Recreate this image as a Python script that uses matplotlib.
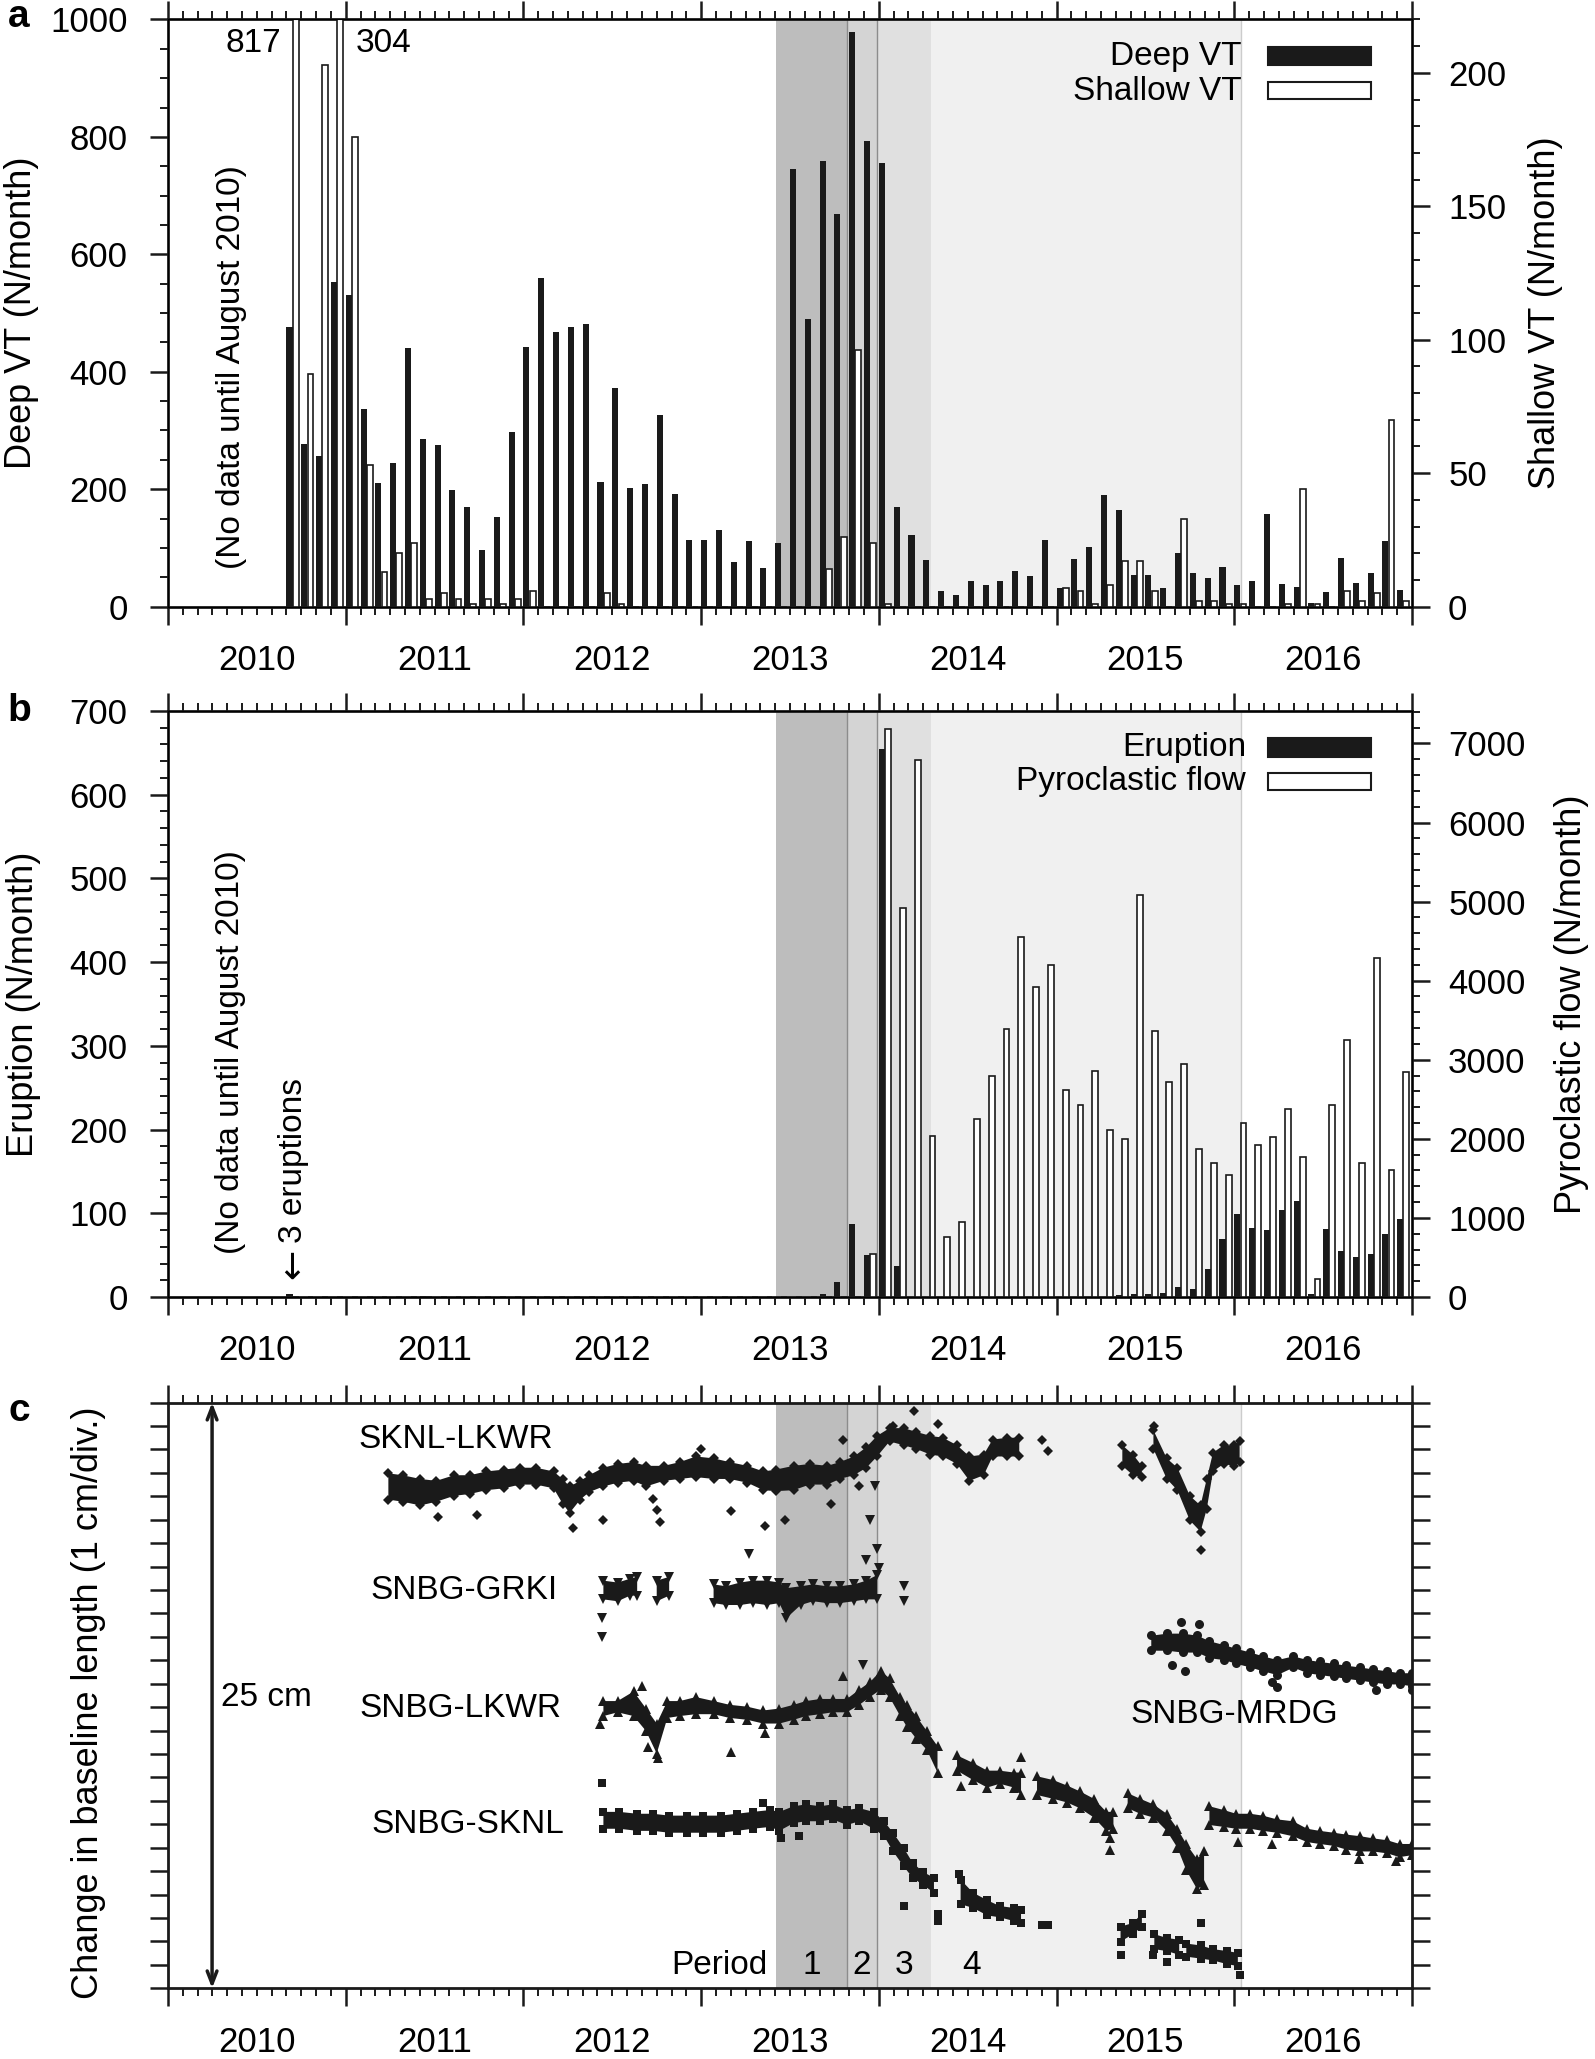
import numpy as np
import matplotlib
matplotlib.use("Agg")
import matplotlib.pyplot as plt
from matplotlib.ticker import MultipleLocator, NullFormatter
from matplotlib.patches import Rectangle

plt.rcParams['font.family'] = ['Liberation Sans', 'DejaVu Sans']
ink = '#1a1a1a'

# monthly counts, Sep 2010 .. Dec 2016 (each bar starts on the first day of its month)
month_t = 2010 + 8 / 12 + np.arange(76) / 12

deep_vt = [477, 277, 256, 553, 530, 337, 210, 245, 441, 286, 275, 199, 170, 97, 153, 297,
           443, 560, 468, 477, 481, 213, 372, 202, 209, 326, 192, 114, 113, 131, 76, 112,
           65, 109, 745, 490, 759, 669, 979, 793, 756, 170, 122, 79, 26, 19, 44, 37,
           43, 60, 52, 114, 32, 81, 102, 190, 164, 53, 53, 31, 91, 57, 49, 67,
           36, 43, 157, 38, 34, 6, 25, 82, 41, 57, 112, 28]
shallow_vt = [817, 87, 203, 304, 176, 53, 13, 20, 24, 3, 5, 3, 1, 3, 1, 3,
              6, 0, 0, 0, 0, 5, 1, 0, 0, 0, 0, 0, 0, 0, 0, 0,
              0, 0, 0, 0, 14, 26, 96, 24, 1, 0, 0, 0, 0, 0, 0, 0,
              0, 0, 0, 0, 7, 6, 1, 8, 17, 17, 6, 0, 33, 2, 2, 1,
              1, 0, 0, 1, 44, 1, 0, 6, 2, 5, 70, 2]
eruption = [3, 0, 0, 0, 0, 0, 0, 0, 0, 1, 0, 0, 0, 0, 0, 0,
            0, 0, 0, 0, 0, 0, 0, 0, 0, 0, 0, 0, 0, 0, 0, 0,
            0, 0, 0, 0, 3, 18, 87, 50, 655, 37, 0, 0, 0, 0, 0, 0,
            0, 0, 0, 0, 0, 0, 0, 0, 2, 3, 4, 5, 12, 10, 33, 69,
            99, 83, 80, 104, 115, 3, 81, 55, 48, 51, 75, 93]
pyroclastic = [0, 0, 0, 0, 0, 0, 0, 0, 0, 0, 0, 0, 0, 0, 0, 0,
               0, 0, 0, 0, 0, 0, 0, 0, 0, 0, 0, 0, 0, 0, 0, 0,
               0, 0, 0, 0, 0, 0, 0, 545, 7183, 4914, 6790, 2040, 765, 946, 2250, 2790,
               3390, 4555, 3918, 4200, 2620, 2430, 2858, 2110, 1999, 5078, 3368, 2722, 2948, 1867, 1699, 1542,
               2195, 1924, 2024, 2373, 1767, 231, 2422, 3246, 1695, 4285, 1601, 2841]

years = [2010, 2011, 2012, 2013, 2014, 2015, 2016]
period_edges = [2013.419, 2013.82, 2013.99, 2014.295, 2016.04]
period_shades = ['#bdbdbd', '#d4d4d4', '#e0e0e0', '#f0f0f0']
period_names = ['1', '2', '3', '4']
period_label_x = [2013.62, 2013.905, 2014.14, 2014.52]

# baseline changes (cm), upper / lower edge of the point cloud, None = gap
sknl_lkwr_t = [2011.24, 2011.32, 2011.42, 2011.51, 2011.61, 2011.70, 2011.79, 2011.89, 2011.98, 2012.07,
               2012.17, 2012.22, 2012.26, 2012.32, 2012.37, 2012.45, 2012.53, 2012.62, 2012.69, 2012.79,
               2012.88, 2012.97, 2013.07, 2013.16, 2013.26, 2013.35, 2013.42, 2013.52, 2013.61, 2013.71,
               2013.78, 2013.86, 2013.93, 2013.99, 2014.06, 2014.14, 2014.21, 2014.29, 2014.36, 2014.44,
               2014.51, 2014.59, 2014.64, 2014.72, 2014.79, None, 2015.37, 2015.43, 2015.48, None,
               2015.545, 2015.62, 2015.68, 2015.75, 2015.81, 2015.845, 2015.88, 2015.94, 2016.00, 2016.03]
sknl_lkwr_hi = [21.98, 21.90, 21.74, 21.66, 21.90, 21.90, 22.06, 22.14, 22.22, 22.22,
                22.06, 21.74, 21.42, 21.66, 21.90, 22.22, 22.38, 22.46, 22.30, 22.30,
                22.46, 22.70, 22.62, 22.46, 22.30, 22.06, 22.14, 22.30, 22.38, 22.30,
                22.46, 22.70, 23.10, 23.58, 23.91, 23.91, 23.75, 23.58, 23.50, 23.18,
                22.70, 22.78, 23.42, 23.50, 23.50, None, 23.18, 22.78, 22.30, None,
                23.82, 22.62, 22.22, 21.02, 20.61, 21.74, 22.86, 23.18, 23.18, 23.34]
sknl_lkwr_lo = [20.86, 20.77, 20.61, 20.77, 21.02, 21.10, 21.26, 21.34, 21.50, 21.50,
                21.34, 20.69, 20.29, 20.86, 21.18, 21.42, 21.58, 21.66, 21.42, 21.66,
                21.74, 21.82, 21.74, 21.74, 21.58, 21.26, 21.22, 21.26, 21.50, 21.50,
                21.74, 21.90, 22.22, 22.70, 23.34, 23.18, 23.02, 22.78, 22.70, 22.38,
                21.66, 21.90, 22.70, 22.70, 22.70, None, 22.30, 21.90, 21.82, None,
                23.02, 21.74, 21.26, 19.97, 19.49, 20.45, 22.06, 22.38, 22.30, 22.46]
sknl_lkwr_out_t = [2011.52, 2011.74, 2012.28, 2012.45, 2012.73, 2012.75, 2012.77, 2013.00, 2013.17, 2013.36,
                   2013.47, 2013.73, 2013.80, 2013.89, 2014.08, 2014.20, 2014.33, 2014.92, 2014.95, 2015.81, 2015.55]
sknl_lkwr_out_y = [20.13, 20.21, 19.65, 19.97, 20.90, 20.40, 19.90, 23.02, 20.37, 19.73,
                   19.97, 20.69, 23.42, 21.42, 23.99, 24.63, 24.07, 23.42, 22.94, 18.69, 24.00]

snbg_grki_t = [2012.45, 2012.53, 2012.60, 2012.64, None, 2012.75, 2012.82, None, 2013.07, 2013.14, 2013.22,
               2013.29, 2013.37, 2013.44, 2013.48, 2013.56, 2013.63, 2013.71, 2013.78, 2013.86, 2013.93, 2013.99]
snbg_grki_hi = [17.40, 17.32, 17.48, 17.56, None, 17.40, 17.56, None, 17.24, 17.16, 17.32,
                17.40, 17.40, 17.32, 17.08, 17.16, 17.24, 17.16, 17.16, 17.24, 17.40, 17.64]
snbg_grki_lo = [16.60, 16.52, 16.76, 16.76, None, 16.52, 16.76, None, 16.44, 16.36, 16.36,
                16.44, 16.36, 16.44, 15.80, 16.36, 16.52, 16.44, 16.44, 16.52, 16.60, 16.60]
snbg_grki_out_t = [2012.44, 2012.44, 2013.27, 2013.93, 2013.95, 2013.98, 2013.99, 2014.00, 2013.91, 2014.14, 2014.14]
snbg_grki_out_y = [15.80, 15.00, 18.53, 18.29, 20.00, 21.45, 18.77, 17.96, 13.79, 17.16, 16.52]

snbg_lkwr_t = [2012.45, 2012.53, 2012.62, 2012.69, 2012.75, 2012.81, 2012.88, 2012.97, 2013.07, 2013.16,
               2013.26, 2013.35, 2013.44, 2013.52, 2013.59, 2013.67, 2013.74, 2013.82, 2013.89, 2013.95,
               2014.01, 2014.06, 2014.12, 2014.16, 2014.21, 2014.27, 2014.33, None, 2014.44, 2014.53,
               2014.61, 2014.68, 2014.76, 2014.80, None, 2014.89, 2014.98, 2015.06, 2015.13, 2015.21,
               2015.28, 2015.32, None, 2015.40, 2015.47, 2015.545, 2015.62, 2015.68, 2015.73, 2015.79,
               2015.83, None, 2015.86, 2015.94, 2016.01, 2016.09, 2016.16, 2016.24, 2016.33, 2016.41,
               2016.48, 2016.56, 2016.63, 2016.71, 2016.78, 2016.86, 2016.93, 2017.00]
snbg_lkwr_hi = [12.26, 12.26, 12.67, 11.94, 11.30, 12.26, 12.26, 12.43, 12.26, 12.10,
                12.02, 11.86, 11.94, 12.10, 12.26, 12.35, 12.35, 12.35, 12.75, 13.07,
                13.55, 13.23, 12.43, 12.10, 11.62, 10.98, 10.34, None, 9.94, 9.62,
                9.29, 9.29, 9.21, 9.21, None, 9.05, 8.89, 8.65, 8.41, 8.09,
                7.53, 7.53, None, 8.33, 8.09, 7.85, 7.45, 6.81, 6.16, 5.52,
                5.84, None, 7.77, 7.61, 7.45, 7.45, 7.37, 7.21, 7.13, 6.81,
                6.72, 6.64, 6.56, 6.49, 6.40, 6.32, 6.16, 6.16]
snbg_lkwr_lo = [11.62, 11.78, 11.62, 10.98, 10.02, 11.54, 11.62, 11.70, 11.70, 11.54,
                11.46, 11.30, 11.30, 11.46, 11.62, 11.70, 11.78, 11.78, 12.10, 12.43,
                12.75, 12.43, 11.62, 11.14, 10.66, 10.18, 9.21, None, 9.29, 8.89,
                8.57, 8.73, 8.57, 8.25, None, 8.25, 8.09, 7.93, 7.69, 7.29,
                6.72, 6.81, None, 7.69, 7.45, 7.29, 6.72, 6.00, 5.04, 4.24,
                4.40, None, 6.97, 6.89, 6.81, 6.81, 6.72, 6.64, 6.49, 6.24,
                6.16, 6.08, 5.92, 5.84, 5.84, 5.76, 5.60, 5.68]
snbg_lkwr_out_t = [2012.43, 2012.665, 2013.17, 2013.36, 2013.80, 2014.46, 2014.80, 2015.30, 2015.30,
                   2016.02, 2016.21, 2016.70, 2016.91, 2012.70, 2012.76]
snbg_lkwr_out_y = [11.30, 12.91, 10.10, 10.90, 13.31, 8.65, 9.86, 6.40, 5.92,
                   6.24, 6.16, 5.52, 5.44, 10.30, 9.85]

snbg_mrdg_t = [2015.53, 2015.62, 2015.71, 2015.79, 2015.86, 2015.94, 2016.01, 2016.09, 2016.16, 2016.24,
               2016.33, 2016.41, 2016.48, 2016.56, 2016.63, 2016.71, 2016.78, 2016.86, 2016.93, 2017.00]
snbg_mrdg_hi = [15.07, 15.16, 15.16, 15.07, 14.83, 14.67, 14.51, 14.35, 14.19, 14.03,
                14.19, 14.03, 13.95, 13.87, 13.79, 13.71, 13.63, 13.55, 13.47, 13.47]
snbg_mrdg_lo = [14.43, 14.43, 14.35, 14.35, 14.11, 14.03, 13.87, 13.71, 13.55, 13.39,
                13.71, 13.47, 13.39, 13.31, 13.23, 13.15, 13.07, 12.99, 12.99, 12.91]
snbg_mrdg_out_t = [2015.65, 2015.72, 2016.21, 2016.80, 2016.999, 2015.70, 2015.80, 2016.24]
snbg_mrdg_out_y = [13.79, 13.55, 13.07, 12.75, 12.75, 15.64, 15.56, 12.85]

snbg_sknl_t = [2012.45, 2012.54, 2012.64, 2012.73, 2012.82, 2012.92, 2013.01, 2013.11, 2013.20, 2013.29,
               2013.39, 2013.44, 2013.52, 2013.59, 2013.67, 2013.74, 2013.82, 2013.89, 2013.97, 2014.03,
               2014.08, 2014.14, 2014.19, 2014.25, 2014.31, None, 2014.46, 2014.53, 2014.61, 2014.68,
               2014.76, 2014.80, None, 2015.36, 2015.43, 2015.48, None, 2015.55, 2015.62, 2015.69,
               None, 2015.73, 2015.81, 2015.88, 2015.96, 2016.02]
snbg_sknl_hi = [7.53, 7.53, 7.45, 7.45, 7.37, 7.37, 7.37, 7.37, 7.45, 7.53,
                7.61, 7.53, 7.77, 7.85, 7.77, 7.85, 7.61, 7.69, 7.53, 7.13,
                6.64, 5.99, 5.36, 4.96, 4.72, None, 4.64, 4.08, 3.76, 3.51,
                3.43, 3.35, None, 2.63, 2.79, 3.19, None, 2.31, 2.15, 2.07,
                None, 1.91, 1.83, 1.67, 1.59, 1.51]
snbg_sknl_lo = [6.81, 6.81, 6.72, 6.72, 6.64, 6.64, 6.64, 6.64, 6.72, 6.81,
                6.89, 6.72, 7.05, 7.13, 7.13, 7.21, 6.97, 7.13, 6.81, 6.49,
                5.84, 5.20, 4.72, 4.40, 4.08, None, 3.59, 3.43, 3.11, 3.03,
                2.87, 2.79, None, 1.99, 2.31, 2.63, None, 1.67, 1.59, 1.43,
                None, 1.35, 1.27, 1.19, 1.03, 0.95]
snbg_sknl_out_t = [2012.44, 2013.35, 2014.14, 2014.33, 2014.33, 2014.45, 2014.92, 2014.95, 2015.36, 2015.54,
                   2015.62, 2015.81, 2016.03, 2013.55, 2013.45]
snbg_sknl_out_y = [8.76, 7.93, 3.51, 3.19, 2.87, 4.88, 2.70, 2.70, 1.43, 1.43,
                   1.11, 2.79, 0.55, 6.50, 6.40]


def frame(ax):
    ax.set_xlim(2010, 2017)
    ax.xaxis.set_major_locator(MultipleLocator(1))
    ax.xaxis.set_minor_locator(MultipleLocator(1 / 12))
    ax.xaxis.set_major_formatter(NullFormatter())
    ax.tick_params(axis='both', which='both', direction='out', top=True, color=ink)
    ax.tick_params(axis='both', which='major', length=13, width=1.8, labelsize=25, pad=16)
    ax.tick_params(axis='both', which='minor', length=5.5, width=1.4)
    for s in ax.spines.values():
        s.set_linewidth(2)
        s.set_color(ink)
    tr = ax.get_xaxis_transform()
    for yr in years:
        ax.text(yr + 0.5, -0.092, str(yr), transform=tr, ha='center', va='center', fontsize=25)


def shade(ax):
    for x0, x1, c in zip(period_edges[:-1], period_edges[1:], period_shades):
        ax.axvspan(x0, x1, color=c, lw=0, zorder=0)
    for x in period_edges[1:3]:
        ax.axvline(x, color='#8c8c8c', lw=1, zorder=0.5)
    ax.axvline(period_edges[-1], color='#cccccc', lw=1, zorder=0.5)


def right_axis(ax2, top, major, minor, label, label_x):
    ax2.set_ylim(0, top)
    ax2.yaxis.set_major_locator(MultipleLocator(major))
    ax2.yaxis.set_minor_locator(MultipleLocator(minor))
    ax2.tick_params(axis='y', which='both', direction='out', color=ink)
    ax2.tick_params(axis='y', which='major', length=13, width=1.8, labelsize=25, pad=13)
    ax2.tick_params(axis='y', which='minor', length=5.5, width=1.4)
    ax2.set_ylabel(label, fontsize=26, rotation=90, ha='center', va='center', rotation_mode='anchor')
    ax2.yaxis.set_label_coords(label_x, 0.5)


def key(ax, labels, text_x, text_y, boxes):
    for lab, ty, (by, bh), fc in zip(labels, text_y, boxes, [ink, 'white']):
        ax.add_patch(Rectangle((0.8842, by), 0.0828, bh, transform=ax.transAxes,
                               facecolor=fc, edgecolor=ink, lw=1.5, zorder=10, clip_on=False))
        ax.text(text_x, ty, lab, transform=ax.transAxes, ha='right', va='center', fontsize=24, zorder=10)


def baseline(ax, t, hi, lo, out_t, out_y, marker, ms):
    t = np.array(t, dtype=float)
    hi = np.array(hi, dtype=float)
    lo = np.array(lo, dtype=float)
    ax.fill_between(t, lo, hi, color=ink, lw=0, zorder=3)
    for y in (hi, lo):
        ax.plot(t, y, ls='none', marker=marker, ms=ms, color=ink, mew=0, zorder=3)
    ax.plot(out_t, out_y, ls='none', marker=marker, ms=ms, color=ink, mew=0, zorder=3)


fig = plt.figure(figsize=(15.95, 20.59), dpi=100)
W = 0.77994
ax_a = fig.add_axes([0.10533, 0.70539, W, 0.28514])
ax_b = fig.add_axes([0.10533, 0.37008, W, 0.28461])
ax_c = fig.add_axes([0.10533, 0.03434, W, 0.28446])

# ---- a: volcano-tectonic earthquakes
shade(ax_a)
ax_a.bar(month_t, deep_vt, width=0.034, align='edge', color=ink, lw=0, zorder=2)
frame(ax_a)
ax_a.set_ylim(0, 1000)
ax_a.yaxis.set_major_locator(MultipleLocator(200))
ax_a.yaxis.set_minor_locator(MultipleLocator(50))
ax_a.tick_params(axis='y', which='both', right=False)
ax_a.set_ylabel('Deep VT (N/month)', fontsize=26, rotation=90, ha='center', va='center', rotation_mode='anchor')
ax_a.yaxis.set_label_coords(-0.1174, 0.5)
ax_a2 = ax_a.twinx()
ax_a2.bar(month_t + 0.035, shallow_vt, width=0.033, align='edge', facecolor='white', edgecolor=ink, lw=1.2)
right_axis(ax_a2, 220, 50, 10, 'Shallow VT (N/month)', 1.1077)
ax_a.text(2010.636, 959, '817', ha='right', va='center', fontsize=24)
ax_a.text(2011.058, 959, '304', ha='left', va='center', fontsize=24)
ax_a.text(2010.355, 408, '(No data until August 2010)', rotation=90, ha='center', va='center', fontsize=24)
key(ax_a2, ['Deep VT', 'Shallow VT'], 0.8633, [0.9378, 0.8782], [(0.9225, 0.0307), (0.8653, 0.0282)])

# ---- b: eruptions and pyroclastic flows
shade(ax_b)
ax_b.bar(month_t, eruption, width=0.034, align='edge', color=ink, lw=0, zorder=2)
frame(ax_b)
ax_b.set_ylim(0, 700)
ax_b.yaxis.set_major_locator(MultipleLocator(100))
ax_b.yaxis.set_minor_locator(MultipleLocator(20))
ax_b.tick_params(axis='y', which='both', right=False)
ax_b.set_ylabel('Eruption (N/month)', fontsize=26, rotation=90, ha='center', va='center', rotation_mode='anchor')
ax_b.yaxis.set_label_coords(-0.116, 0.5)
ax_b2 = ax_b.twinx()
ax_b2.bar(month_t + 0.035, pyroclastic, width=0.033, align='edge', facecolor='white', edgecolor=ink, lw=1.2)
right_axis(ax_b2, 7410, 1000, 200, 'Pyroclastic flow (N/month)', 1.128)
ax_b.text(2010.35, 293, '(No data until August 2010)', rotation=90, ha='center', va='center', fontsize=24)
ax_b.text(2010.706, 64, '3 eruptions', rotation=90, ha='center', va='bottom', fontsize=24)
ax_b.text(2010.706, 58, '\u2190', rotation=90, ha='center', va='top', fontsize=26, family='DejaVu Sans')
key(ax_b2, ['Eruption', 'Pyroclastic flow'], 0.8666, [0.9369, 0.8805], [(0.9215, 0.0324), (0.8652, 0.029)])

# ---- c: GNSS baseline lengths
shade(ax_c)
frame(ax_c)
ax_c.set_ylim(0, 25)
ax_c.yaxis.set_major_locator(MultipleLocator(1))
ax_c.yaxis.set_major_formatter(NullFormatter())
ax_c.tick_params(axis='y', which='both', right=True)
ax_c.set_ylabel('Change in baseline length (1 cm/div.)', fontsize=26, rotation=90,
                ha='center', va='center', rotation_mode='anchor')
ax_c.yaxis.set_label_coords(-0.064, 0.487)

baseline(ax_c, sknl_lkwr_t, sknl_lkwr_hi, sknl_lkwr_lo, sknl_lkwr_out_t, sknl_lkwr_out_y, 'D', 5.5)
baseline(ax_c, snbg_grki_t, snbg_grki_hi, snbg_grki_lo, snbg_grki_out_t, snbg_grki_out_y, 'v', 7)
baseline(ax_c, snbg_lkwr_t, snbg_lkwr_hi, snbg_lkwr_lo, snbg_lkwr_out_t, snbg_lkwr_out_y, '^', 7)
baseline(ax_c, snbg_mrdg_t, snbg_mrdg_hi, snbg_mrdg_lo, snbg_mrdg_out_t, snbg_mrdg_out_y, 'o', 6.5)
baseline(ax_c, snbg_sknl_t, snbg_sknl_hi, snbg_sknl_lo, snbg_sknl_out_t, snbg_sknl_out_y, 's', 5.5)

ax_c.annotate('', xy=(2010.248, 25), xytext=(2010.248, 0),
              arrowprops=dict(arrowstyle='<->,head_length=0.9,head_width=0.35', lw=2.5, color=ink,
                              shrinkA=0, shrinkB=0))
ax_c.text(2010.30, 12.43, '25 cm', ha='left', va='center', fontsize=24)
ax_c.text(2011.62, 23.44, 'SKNL-LKWR', ha='center', va='center', fontsize=24)
ax_c.text(2011.666, 16.96, 'SNBG-GRKI', ha='center', va='center', fontsize=24)
ax_c.text(2011.643, 11.96, 'SNBG-LKWR', ha='center', va='center', fontsize=24)
ax_c.text(2011.688, 6.97, 'SNBG-SKNL', ha='center', va='center', fontsize=24)
ax_c.text(2016.0, 11.70, 'SNBG-MRDG', ha='center', va='center', fontsize=24)
ax_c.text(2013.376, 0.99, 'Period', ha='right', va='center', fontsize=24)
for x, name in zip(period_label_x, period_names):
    ax_c.text(x, 0.99, name, ha='center', va='center', fontsize=24)

for lab, y in zip(['a', 'b', 'c'], [17, 711, 1411]):
    fig.text(19 / 1595, 1 - y / 2059, lab, ha='center', va='center', fontsize=28, fontweight='bold')

fig.savefig('out.png', dpi=100)
